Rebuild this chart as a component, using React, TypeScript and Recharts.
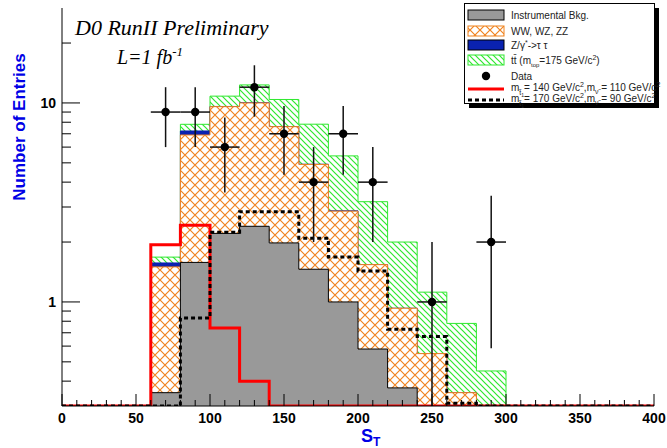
import React from "react";
import { ComposedChart, Area, Line, Scatter, ErrorBar, XAxis, YAxis } from "recharts";

/** Histogram binning: 20 bins of width 20 from 0 to 400 */
const BIN_WIDTH = 20;
const BIN_LOW = [0, 20, 40, 60, 80, 100, 120, 140, 160, 180, 200, 220, 240, 260, 280, 300, 320, 340, 360, 380];

// background components (events per bin), stacked in this order
const INSTR_BKG = [0, 0, 0, 0.35, 1.58, 2.21, 2.4, 1.98, 1.46, 1.0, 0.58, 0.37, 0, 0, 0, 0, 0, 0, 0, 0];
const DIBOSON = [0, 0, 0, 1.15, 5.32, 7.37, 7.6, 5.62, 3.45, 1.86, 0.96, 0.56, 0.55, 0.35, 0.2, 0, 0, 0, 0, 0];
const ZTAUTAU = [0, 0, 0, 0.07, 0.33, 0.02, 0.02, 0.01, 0.01, 0.01, 0, 0, 0, 0, 0, 0, 0, 0, 0, 0];
const TTBAR = [0, 0, 0, 0.11, 0.58, 1.22, 2.3, 2.8, 2.9, 2.55, 1.65, 1.07, 0.57, 0.43, 0.25, 0, 0, 0, 0, 0];

// signal hypotheses
const SIG_140_110 = [0, 0, 0, 1.94, 2.43, 0.74, 0.4, 0, 0, 0, 0, 0, 0, 0, 0, 0, 0, 0, 0, 0];
const SIG_170_90 = [0, 0, 0, 0, 0.83, 2.24, 2.84, 2.84, 2.09, 1.68, 1.43, 0.73, 0.67, 0.31, 0, 0, 0, 0, 0, 0];

// observed data
const DATA_X = [70, 90, 110, 130, 150, 170, 190, 210, 250, 290];
const DATA_N = [9, 9, 6, 12, 7, 4, 7, 4, 1, 2];

const Y_MIN = 0.3;
const Y_MAX = 30;
const Y_TICKS = [0.4, 0.5, 0.6, 0.7, 0.8, 0.9, 1, 2, 3, 4, 5, 6, 7, 8, 9, 10, 20];
const X_TICKS = Array.from({ length: 41 }, (_, i) => i * 10);

const GRAY = "#999999";
const ORANGE = "#f0831f";
const BLUE = "#0a22b0";
const GREEN = "#2ee82e";
const TITLE_BLUE = "#0000e6";
const SANS = "'Liberation Sans', Arial, Helvetica, sans-serif";
const SERIF = "'Liberation Serif', 'Times New Roman', serif";

const clampLog = (v: number) => Math.max(v, Y_MIN);

const cumulative = (parts: number[][]) =>
  BIN_LOW.map((_, i) => parts.reduce((s, p) => s + p[i], 0));

const cInstr = cumulative([INSTR_BKG]);
const cDiboson = cumulative([INSTR_BKG, DIBOSON]);
const cZtt = cumulative([INSTR_BKG, DIBOSON, ZTAUTAU]);
const cTtbar = cumulative([INSTR_BKG, DIBOSON, ZTAUTAU, TTBAR]);

// one row per bin edge, last edge repeats the last bin so stepAfter closes at 400
const histRows = [...BIN_LOW, BIN_LOW[BIN_LOW.length - 1] + BIN_WIDTH].map((x, k) => {
  const i = Math.min(k, BIN_LOW.length - 1);
  return {
    x,
    instr: clampLog(cInstr[i]),
    diboson: clampLog(cDiboson[i]),
    ztt: clampLog(cZtt[i]),
    ttbar: clampLog(cTtbar[i]),
    sigA: clampLog(SIG_140_110[i]),
    sigB: clampLog(SIG_170_90[i]),
  };
});

const dataPoints = DATA_X.map((x, i) => {
  const n = DATA_N[i];
  const e = Math.sqrt(n);
  return { x, y: n, ex: BIN_WIDTH / 2, ey: [Math.min(e, n - Y_MIN), e] };
});

function XTick(props: any) {
  const { x, y, payload } = props;
  const v = payload.value as number;
  const major = v % 50 === 0;
  return (
    <g>
      <line x1={x} x2={x} y1={y} y2={y - (major ? 12 : 6)} stroke="#000" strokeWidth={1} />
      {major && (
        <text x={x} y={y + 17} textAnchor="middle" fontFamily={SANS} fontWeight="bold" fontSize={14} fill="#000">
          {v}
        </text>
      )}
    </g>
  );
}

function YTick(props: any) {
  const { x, y, payload } = props;
  const v = payload.value as number;
  const major = v === 1 || v === 10;
  return (
    <g>
      <line x1={x} x2={x + (major ? 18 : 9)} y1={y} y2={y} stroke="#000" strokeWidth={1} />
      {major && (
        <text x={x - 6} y={y + 5} textAnchor="end" fontFamily={SANS} fontWeight="bold" fontSize={14} fill="#000">
          {v}
        </text>
      )}
    </g>
  );
}

const DataDot = (props: any) => <circle cx={props.cx} cy={props.cy} r={4.2} fill="#000" />;

function Patterns({ suffix }: { suffix: string }) {
  return (
    <defs>
      <pattern id={`xhatch${suffix}`} patternUnits="userSpaceOnUse" width="10" height="10">
        <rect width="10" height="10" fill="#fff" />
        <path d="M0,0 L10,10 M10,0 L0,10" stroke={ORANGE} strokeWidth="1.2" />
      </pattern>
      <pattern id={`dhatch${suffix}`} patternUnits="userSpaceOnUse" width="6" height="6">
        <rect width="6" height="6" fill="#fff" />
        <path d="M0,0 L6,6 M-1,5 L1,7 M5,-1 L7,1" stroke={GREEN} strokeWidth="1.2" />
      </pattern>
    </defs>
  );
}

function Overlay() {
  const lx = 464;
  const ly = 3;
  const sw = { x: 468, w: 36 };
  const tx = 511;
  const txt = { fontFamily: SANS, fontSize: 10, fill: "#222" };
  const rows = [15, 31, 45, 60, 76, 88, 99];
  return (
    <svg width={667} height={448} style={{ position: "absolute", left: 0, top: 0, pointerEvents: "none" }}>
      <Patterns suffix="L" />
      {/* titles */}
      <text x={75} y={35} fontFamily={SERIF} fontStyle="italic" fontSize={22} fill="#000">
        D0 RunII Preliminary
      </text>
      <text x={117} y={64} fontFamily={SERIF} fontStyle="italic" fontSize={20} fill="#000">
        L=1 fb<tspan dy={-8} fontSize={13}>-1</tspan>
      </text>
      <text
        transform="translate(25,127) rotate(-90)"
        textAnchor="middle"
        fontFamily={SANS}
        fontWeight="bold"
        fontSize={17}
        fill={TITLE_BLUE}
      >
        Number of Entries
      </text>
      <text x={361} y={442} fontFamily={SANS} fontWeight="bold" fontSize={18} fill={TITLE_BLUE}>
        S<tspan dy={4} fontSize={12}>T</tspan>
      </text>

      {/* legend box */}
      <rect x={lx + 5} y={ly + 5} width={190} height={100} fill="#000" />
      <rect x={lx + 0.5} y={ly + 0.5} width={190} height={100} fill="#fff" stroke="#000" />

      <rect x={sw.x} y={rows[0] - 5} width={sw.w} height={10} fill={GRAY} stroke="#000" />
      <text x={tx} y={rows[0] + 3.5} {...txt}>Instrumental Bkg.</text>

      <rect x={sw.x} y={rows[1] - 5} width={sw.w} height={10} fill="url(#xhatchL)" stroke={ORANGE} />
      <text x={tx} y={rows[1] + 3.5} {...txt}>WW, WZ, ZZ</text>

      <rect x={sw.x} y={rows[2] - 5} width={sw.w} height={10} fill={BLUE} stroke="#000" />
      <text x={tx} y={rows[2] + 3.5} {...txt}>
        Z/γ<tspan dy={-4} fontSize={7}>*</tspan>
        <tspan dy={4}>-&gt;τ τ</tspan>
      </text>

      <rect x={sw.x} y={rows[3] - 5} width={sw.w} height={10} fill="url(#dhatchL)" stroke={GREEN} />
      <text x={tx} y={rows[3] + 3.5} {...txt}>
        tt̄ (m<tspan dy={3} fontSize={6}>top</tspan>
        <tspan dy={-3}>=175 GeV/c</tspan>
        <tspan dy={-4} fontSize={7}>2</tspan>
        <tspan dy={4}>)</tspan>
      </text>

      <circle cx={sw.x + sw.w / 2} cy={rows[4]} r={4.2} fill="#000" />
      <text x={tx} y={rows[4] + 3.5} {...txt}>Data</text>

      <line x1={sw.x} x2={sw.x + sw.w} y1={rows[5] + 1} y2={rows[5] + 1} stroke="#ff0000" strokeWidth={3} />
      <text x={tx} y={rows[5] + 3} {...txt}>
        m<tspan dy={4} fontSize={7}>t̃</tspan>
        <tspan dy={2} fontSize={5}>1</tspan>
        <tspan dy={-6}>= 140 GeV/c</tspan>
        <tspan dy={-4} fontSize={7}>2</tspan>
        <tspan dy={4}>,m</tspan>
        <tspan dy={3} fontSize={7}>ν̃</tspan>
        <tspan dy={-3}> = 110 GeV/c</tspan>
        <tspan dy={-4} fontSize={7}>2</tspan>
      </text>

      <line
        x1={sw.x}
        x2={sw.x + sw.w}
        y1={rows[6] + 1}
        y2={rows[6] + 1}
        stroke="#000"
        strokeWidth={3}
        strokeDasharray="4 3"
      />
      <text x={tx} y={rows[6] + 3} {...txt}>
        m<tspan dy={4} fontSize={7}>t̃</tspan>
        <tspan dy={2} fontSize={5}>1</tspan>
        <tspan dy={-6}>= 170 GeV/c</tspan>
        <tspan dy={-4} fontSize={7}>2</tspan>
        <tspan dy={4}>,m</tspan>
        <tspan dy={3} fontSize={7}>ν̃</tspan>
        <tspan dy={-3}> = 90 GeV/c</tspan>
        <tspan dy={-4} fontSize={7}>2</tspan>
      </text>
    </svg>
  );
}

export default function App() {
  return (
    <div style={{ position: "absolute", left: 0, top: 0, width: 667, height: 448, background: "#fff" }}>
      <ComposedChart
        width={667}
        height={448}
        data={histRows}
        margin={{ top: 8, right: 13, bottom: 0, left: 22 }}
      >
        <Patterns suffix="C" />
        <XAxis
          dataKey="x"
          type="number"
          domain={[0, 400]}
          allowDataOverflow
          ticks={X_TICKS}
          interval={0}
          tick={<XTick />}
          tickSize={0}
          tickMargin={0}
          tickLine={false}
          axisLine={{ stroke: "#000" }}
          height={42}
        />
        <XAxis xAxisId="top" orientation="top" type="number" domain={[0, 400]} height={0} tick={false} tickLine={false} axisLine={{ stroke: "#000" }} />
        <YAxis
          type="number"
          scale="log"
          domain={[Y_MIN, Y_MAX]}
          allowDataOverflow
          ticks={Y_TICKS}
          interval={0}
          tick={<YTick />}
          tickSize={0}
          tickMargin={0}
          tickLine={false}
          axisLine={{ stroke: "#000" }}
          width={40}
        />
        <YAxis yAxisId="right" orientation="right" type="number" domain={[0, 1]} width={0} tick={false} tickLine={false} axisLine={{ stroke: "#000" }} />

        <Area type="stepAfter" dataKey="ttbar" baseValue={Y_MIN} stroke={GREEN} strokeWidth={1} fill="url(#dhatchC)" fillOpacity={1} isAnimationActive={false} />
        <Area type="stepAfter" dataKey="ztt" baseValue={Y_MIN} stroke={BLUE} strokeWidth={1} fill={BLUE} fillOpacity={1} isAnimationActive={false} />
        <Area type="stepAfter" dataKey="diboson" baseValue={Y_MIN} stroke={ORANGE} strokeWidth={1} fill="url(#xhatchC)" fillOpacity={1} isAnimationActive={false} />
        <Area type="stepAfter" dataKey="instr" baseValue={Y_MIN} stroke="#000" strokeWidth={1} fill={GRAY} fillOpacity={1} isAnimationActive={false} />

        <Line type="stepAfter" dataKey="sigA" stroke="#ff0000" strokeWidth={3} dot={false} activeDot={false} isAnimationActive={false} />
        <Line type="stepAfter" dataKey="sigB" stroke="#000" strokeWidth={3} strokeDasharray="4 3" dot={false} activeDot={false} isAnimationActive={false} />

        <Scatter data={dataPoints} dataKey="y" fill="#000" shape={<DataDot />} isAnimationActive={false}>
          <ErrorBar dataKey="ey" direction="y" width={0} stroke="#111" strokeWidth={1.5} isAnimationActive={false} />
          <ErrorBar dataKey="ex" direction="x" width={0} stroke="#111" strokeWidth={1.5} isAnimationActive={false} />
        </Scatter>
      </ComposedChart>
      <Overlay />
    </div>
  );
}
